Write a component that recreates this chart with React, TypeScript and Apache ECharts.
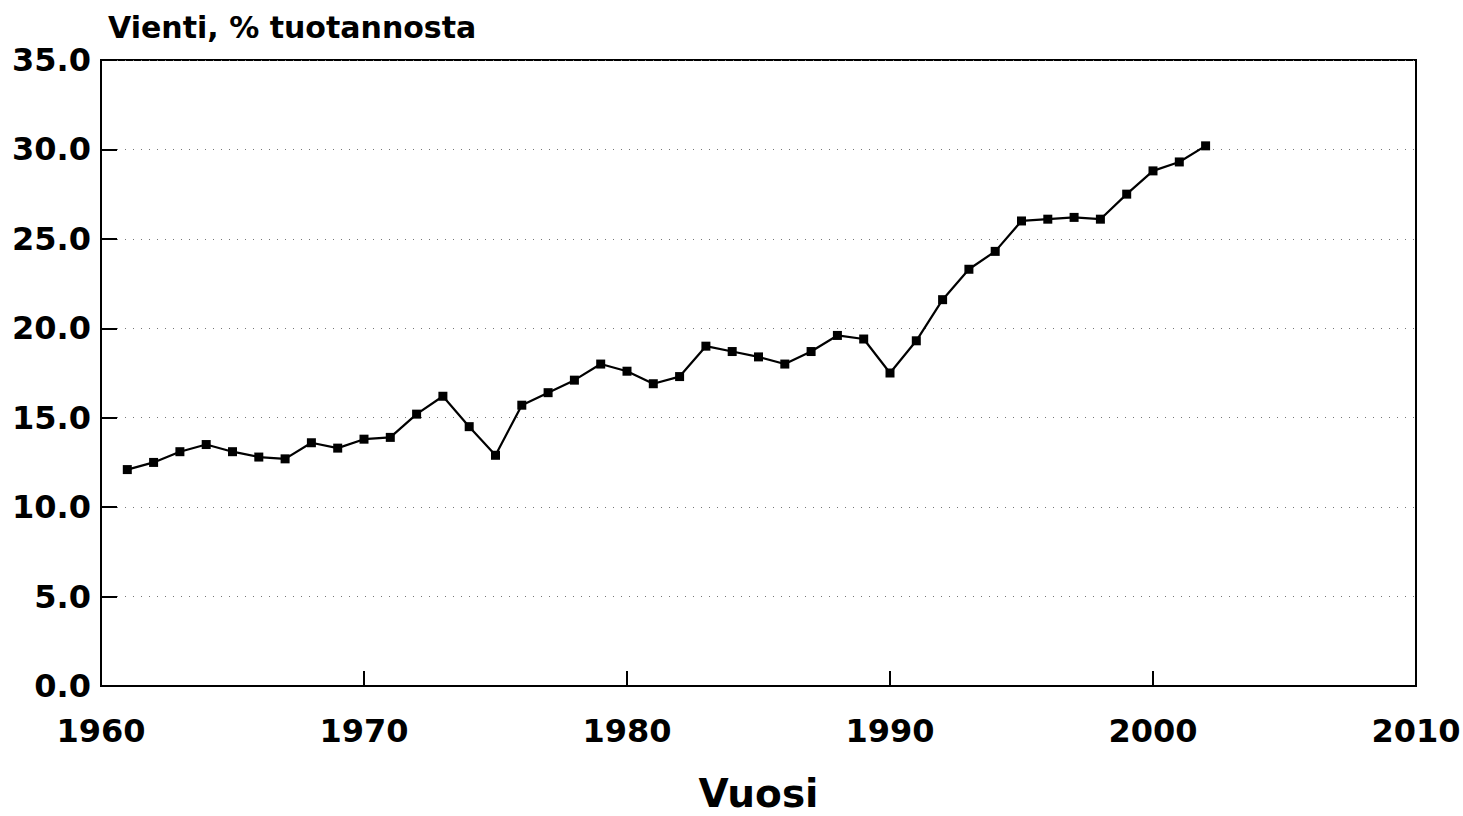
import React, { useEffect, useRef } from "react";
import * as echarts from "echarts";

const years = [
  1961, 1962, 1963, 1964, 1965, 1966, 1967, 1968, 1969, 1970,
  1971, 1972, 1973, 1974, 1975, 1976, 1977, 1978, 1979, 1980,
  1981, 1982, 1983, 1984, 1985, 1986, 1987, 1988, 1989, 1990,
  1991, 1992, 1993, 1994, 1995, 1996, 1997, 1998, 1999, 2000,
  2001, 2002,
];
const exportShare = [
  12.1, 12.5, 13.1, 13.5, 13.1, 12.8, 12.7, 13.6, 13.3, 13.8,
  13.9, 15.2, 16.2, 14.5, 12.9, 15.7, 16.4, 17.1, 18.0, 17.6,
  16.9, 17.3, 19.0, 18.7, 18.4, 18.0, 18.7, 19.6, 19.4, 17.5,
  19.3, 21.6, 23.3, 24.3, 26.0, 26.1, 26.2, 26.1, 27.5, 28.8,
  29.3, 30.2,
];
const yTitle = "Vienti, % tuotannosta";
const xTitle = "Vuosi";

export default function App() {
  const ref = useRef<HTMLDivElement>(null);
  useEffect(() => {
    if (!ref.current) return;
    const chart = echarts.init(ref.current, null, { renderer: "svg" });
    const font = "'DejaVu Sans', Verdana, sans-serif";
    chart.setOption({
      animation: false,
      backgroundColor: "#ffffff",
      textStyle: { fontFamily: font },
      title: {
        text: yTitle,
        left: 103,
        top: 7,
        textStyle: { fontFamily: font, fontSize: 30, fontWeight: "bold", color: "#000" },
      },
      grid: {
        left: 101,
        right: 47,
        top: 60,
        bottom: 130,
        outerBoundsMode: "none",
        containLabel: false,
        show: true,
        borderColor: "#000",
        borderWidth: 2,
        backgroundColor: "transparent",
      },
      xAxis: {
        type: "value",
        min: 1960,
        max: 2010,
        interval: 10,
        name: xTitle,
        nameLocation: "middle",
        nameGap: 87,
        nameTextStyle: {
          fontFamily: font,
          fontSize: 39,
          lineHeight: 40,
          fontWeight: "bold",
          color: "#000",
        },
        axisLine: { show: true, lineStyle: { color: "#000", width: 2 } },
        axisTick: { show: true, inside: true, length: 15, lineStyle: { color: "#000", width: 2 } },
        axisLabel: {
          fontFamily: font,
          fontSize: 32,
          fontWeight: "bold",
          color: "#000",
          margin: 29,
          formatter: (v: number) => String(v),
        },
        splitLine: { show: false },
      },
      yAxis: {
        type: "value",
        min: 0,
        max: 35,
        interval: 5,
        axisLine: { show: true, lineStyle: { color: "#000", width: 2 } },
        axisTick: { show: true, inside: true, length: 16, lineStyle: { color: "#000", width: 2 } },
        axisLabel: {
          fontFamily: font,
          fontSize: 32,
          fontWeight: "bold",
          color: "#000",
          margin: 10,
          formatter: (v: number) => v.toFixed(1),
        },
        splitLine: {
          show: true,
          lineStyle: { color: "#777", width: 1, type: [1, 7] },
        },
      },
      series: [
        {
          type: "line",
          data: years.map((y, i) => [y, exportShare[i]]),
          symbol: "rect",
          symbolSize: 9,
          showSymbol: true,
          lineStyle: { color: "#000", width: 2.2 },
          itemStyle: { color: "#000" },
        },
      ],
    });
    return () => chart.dispose();
  }, []);
  return (
    <div
      ref={ref}
      style={{ position: "fixed", left: 0, top: 0, width: 1463, height: 816, background: "#fff" }}
    />
  );
}
